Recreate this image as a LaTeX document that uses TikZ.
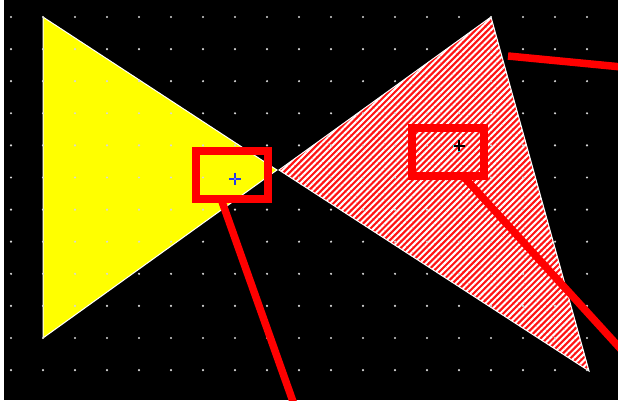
\documentclass[tikz,border=0pt]{standalone}
\usetikzlibrary{patterns.meta}
\definecolor{dotgray}{RGB}{215,215,215}
\definecolor{hatchred}{RGB}{255,20,20}
\definecolor{pureyellow}{RGB}{255,255,0}
\definecolor{markblue}{RGB}{40,60,230}
\definecolor{markcyan}{RGB}{40,220,230}
\tikzset{
  callout/.style={draw=red, line width=8pt, minimum width=72pt, minimum height=48pt, inner sep=0pt, outer sep=0pt},
  leader/.style={draw=red, line width=7.5pt},
  shapeedge/.style={draw=white, line width=1pt},
}
\begin{document}
\begin{tikzpicture}[x=1pt,y=-1pt]
\path[use as bounding box] (0,0) rectangle (618,403);
\fill[white] (0,0) rectangle (618,403);
\fill[black] (4,0) rectangle (618,400);
\begin{scope}
\clip (4,0) rectangle (618,400);
% triangles
\path[shapeedge, fill=pureyellow] (43,17) -- (43,338) -- (277,170) -- cycle;
\path[shapeedge, fill=hatchred] (491,17) -- (279,170) -- (589,371) -- cycle;
\path[pattern={Lines[angle=45,distance=4.4pt,line width=2pt]}, pattern color=white]
  (491,17) -- (279,170) -- (589,371) -- cycle;
% grid dots
\foreach \i in {0,...,18}{
  \foreach \j in {0,...,11}{
    \fill[dotgray] (11+32*\i,17+32.1*\j) circle (1.2pt);
  }
}
% callout boxes
\node[callout] (r1) at (231.75,175) {};
\node[callout] (r2) at (448,152) {};
% markers
\draw[markblue, line width=1.8pt] (229,179) -- (241,179) (235,173) -- (235,185);
\fill[white!70!markblue] (235,179) circle (0.8pt);
\draw[markcyan, line width=2.4pt] (453,146) -- (465,146) (459,140) -- (459,152);
\draw[black, line width=1.2pt] (453.5,146) -- (464.5,146) (459,140.5) -- (459,151.5);
% leader lines
\coordinate (e1) at (296,410);
\coordinate (e2) at (628,357);
\coordinate (s3) at (508,56);
\coordinate (e3) at (628,67.6);
\draw[leader] (r1.246) -- (e1);
\draw[leader] (r2.-58) -- (e2);
\draw[leader] (s3) -- (e3);
\end{scope}
\end{tikzpicture}
\end{document}
